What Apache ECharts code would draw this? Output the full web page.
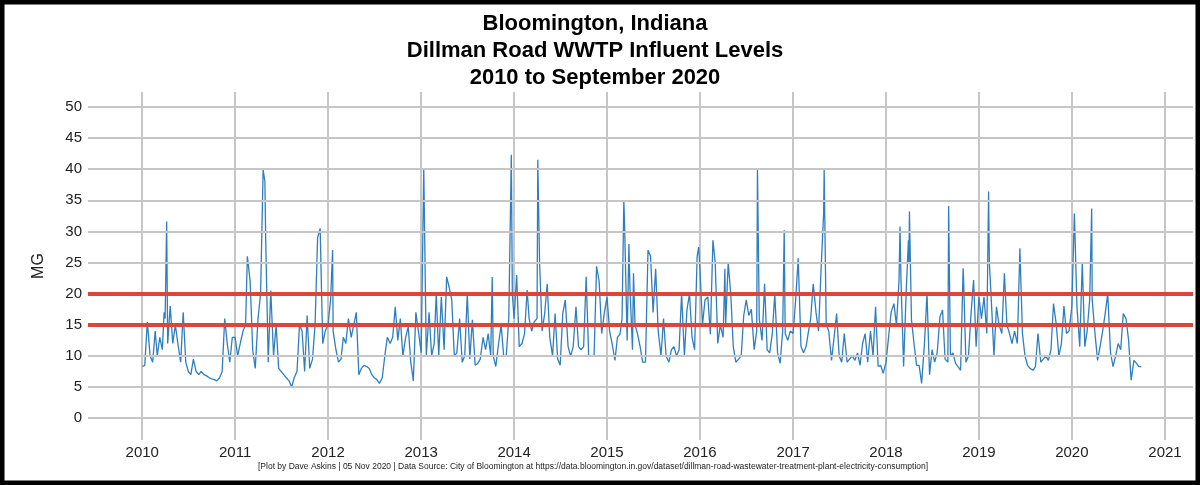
<!DOCTYPE html>
<html>
<head>
<meta charset="utf-8">
<script src="https://cdn.jsdelivr.net/npm/echarts@6/dist/echarts.min.js"></script>
<style>
  html, body { margin: 0; padding: 0; background: #fff; }
  #main { width: 1200px; height: 485px; }
</style>
</head>
<body>
<div id="main"></div>
<script>
var y2010 = [8.3, 8.5, 15.5, 10, 9, 14, 10, 13, 11, 16, 12, 18, 12, 15, 12, 9, 17, 9, 7.5, 7, 9.5, 7.5, 7, 7.5, 7, 6.8, 6.5, 6.3, 6.2, 6, 6.5, 7.5, 16, 12, 9, 13];
var y2011 = [13, 10, 12, 14, 15, 25, 22, 11, 8, 16, 20, 39.9, 29, 9, 20.5, 10, 15, 8, 7.5, 7, 6.5, 6, 5, 6.5, 7.5, 15, 14, 7.5, 16.5, 8, 9.5, 15, 29, 30.5, 12, 14];
var y2012 = [15, 19, 14, 11, 9, 9.5, 13, 12, 16, 13, 15, 17, 7, 8, 8.5, 8.3, 8, 7, 6.5, 6.2, 5.6, 6.5, 10, 13, 12, 13, 17.9, 12.5, 16, 10, 13, 14.7, 9, 6, 17, 14];
var y2013 = [10.5, 40.1, 10, 17, 10, 12, 20, 10, 19.5, 11, 22.7, 21, 19, 10, 10.5, 16, 9, 10, 20, 9.5, 15.8, 8.5, 8.8, 9.5, 13, 11, 13.6, 10, 10, 8.3, 12, 15, 10, 10, 16, 42.3];
var y2014 = [16, 23, 11.5, 12, 13.6, 20.6, 16, 14, 15.5, 16, 25, 14, 16.8, 21.6, 13, 10, 16.8, 9.5, 8.5, 16.8, 19, 11.5, 10, 11.5, 17.9, 11.5, 11, 11.5, 22.7, 10, 10, 10, 24.4, 22, 13.6, 16.8];
var y2015 = [19.5, 14, 12, 9.3, 13, 13.5, 16, 31, 12.5, 21, 11, 15, 13.5, 11.5, 9, 9, 27, 26, 17, 24, 14, 10, 16, 10, 9, 11, 11.5, 10, 11, 20, 10, 17.4, 20, 13, 11, 26];
var y2016 = [24, 15, 19, 19.5, 13.5, 28.6, 25, 12, 15, 13, 15, 25, 20, 11.5, 9, 9.5, 10, 16.5, 19, 16.5, 17.5, 11, 14, 16, 12.5, 21.6, 11, 10.5, 13.5, 20, 10.5, 8.8, 14, 13.6, 12.5, 14];
var y2017 = [13.6, 19, 25.7, 11.5, 10.5, 11.5, 13.6, 16, 21.6, 17, 14, 24, 33, 15, 14, 9.3, 13, 16.8, 10, 9, 13.6, 9, 9.5, 10, 9.3, 10.5, 8.5, 12, 13.6, 9, 14, 10, 17.9, 8.3, 8.5, 7.2];
var y2018 = [9, 13, 17, 18.4, 15, 22, 22, 8.3, 20, 25, 15.8, 12, 8.5, 8.5, 5.6, 12, 20, 7, 11, 9, 10.5, 16.3, 17.4, 9.5, 9, 10, 10.5, 8.8, 8.3, 7.7, 23.3, 9, 10, 16.8, 22.2, 11.5];
var y2019 = [19.5, 16, 19.5, 13.6, 25, 17, 10, 17.9, 15, 13.6, 23.3, 15, 13.6, 12, 14, 12, 27.3, 13.6, 10, 8.5, 8, 7.7, 8.3, 13.6, 9, 9.5, 10, 9.3, 11, 18.4, 15, 10, 12, 18, 13.6, 14];
var y2020 = [17.9, 32.9, 18, 11.5, 25, 11.5, 14, 19, 19, 13.6, 9.3, 11.5, 14, 16.8, 20, 10.5, 8.3, 10, 12, 11, 16.8, 16, 12.5, 6.1, 9.3, 8.8, 8.3];

// short spikes between the 10-day readings
var peaks = [
  ["2010-03-28", 17], ["2010-04-07", 31.6],
  ["2011-02-18", 26], ["2011-04-28", 38],
  ["2012-01-19", 27],
  ["2013-10-07", 22.7], ["2013-12-25", 20],
  ["2014-04-04", 41.5],
  ["2015-03-08", 35], ["2015-03-28", 28], ["2015-04-15", 23.3], ["2015-12-27", 27.5],
  ["2016-04-08", 24], ["2016-08-14", 40.1], ["2016-11-27", 30.2],
  ["2017-05-03", 39.9],
  ["2018-02-25", 30.8], ["2018-03-30", 28.6], ["2018-04-03", 33.2], ["2018-09-04", 34.1], ["2018-10-31", 24.1],
  ["2019-02-08", 36.4],
  ["2020-01-14", 28.6], ["2020-03-19", 33.7], ["2020-09-30", 8.3]
];

var years = [2010, 2011, 2012, 2013, 2014, 2015, 2016, 2017, 2018, 2019, 2020];
var yearly = [y2010, y2011, y2012, y2013, y2014, y2015, y2016, y2017, y2018, y2019, y2020];
var yTicks = [0, 5, 10, 15, 20, 25, 30, 35, 40, 45, 50];
var limits = [15, 20];

function toTime(s) {
  var p = s.split("-");
  return new Date(+p[0], +p[1] - 1, +p[2]).getTime();
}

var flow = [];
years.forEach(function (yr, k) {
  yearly[k].forEach(function (v, i) {
    flow.push([new Date(yr, Math.floor(i / 3), [1, 11, 21][i % 3]).getTime(), v]);
  });
});
peaks.forEach(function (p) { flow.push([toTime(p[0]), p[1]]); });
flow.sort(function (a, b) { return a[0] - b[0]; });

var YEAR = 365 * 24 * 3600 * 1000;
var myChart = echarts.init(document.getElementById("main"));

var option = {
  backgroundColor: "#fff",
  animation: false,
  title: {
    text: "Bloomington, Indiana\nDillman Road WWTP Influent Levels\n2010 to September 2020",
    left: 590,
    textAlign: "center",
    top: 5,
    textStyle: {
      fontFamily: "Liberation Sans, Arial, sans-serif",
      fontSize: 22,
      fontWeight: "bold",
      lineHeight: 27,
      color: "#000"
    }
  },
  grid: { left: 88, right: 7, top: 92, bottom: 45 },
  xAxis: {
    type: "time",
    min: new Date(2009, 5, 2).getTime(),
    max: new Date(2021, 3, 21).getTime(),
    minInterval: YEAR,
    maxInterval: YEAR,
    axisLine: { show: false },
    axisTick: { show: false },
    splitLine: {
      show: true,
      showMinLine: false,
      showMaxLine: false,
      lineStyle: { color: "#c6c6c6", width: 2 }
    },
    axisLabel: {
      margin: 5,
      color: "#222",
      fontSize: 15,
      fontFamily: "Liberation Sans, Arial, sans-serif",
      formatter: function (v) { return String(new Date(v).getFullYear()); }
    }
  },
  yAxis: {
    type: "value",
    min: -3.5,
    max: 52.4,
    name: "MG",
    nameLocation: "middle",
    nameGap: 41,
    nameTextStyle: { color: "#222", fontSize: 16, fontFamily: "Liberation Sans, Arial, sans-serif" },
    axisLine: { show: false },
    axisTick: { show: false },
    splitLine: { show: false },
    axisLabel: {
      customValues: yTicks,
      margin: 6,
      color: "#222",
      fontSize: 15,
      fontFamily: "Liberation Sans, Arial, sans-serif"
    }
  },
  series: [
    {
      name: "grid",
      type: "line",
      data: [],
      z: 1,
      silent: true,
      markLine: {
        silent: true,
        symbol: ["none", "none"],
        label: { show: false },
        lineStyle: { color: "#c6c6c6", width: 2, type: "solid" },
        data: yTicks.map(function (v) { return { yAxis: v }; })
      }
    },
    {
      name: "Influent",
      type: "line",
      data: flow,
      z: 3,
      showSymbol: false,
      symbol: "none",
      lineStyle: { color: "#2f7ebf", width: 1.3 }
    },
    {
      name: "limits",
      type: "line",
      data: [],
      z: 4,
      silent: true,
      markLine: {
        silent: true,
        symbol: ["none", "none"],
        label: { show: false },
        lineStyle: { color: "#d9463e", width: 4, type: "solid" },
        data: limits.map(function (v) { return { yAxis: v }; })
      }
    }
  ],
  graphic: [
    {
      type: "text",
      left: 258,
      top: 462,
      style: {
        text: "[Plot by Dave Askins | 05 Nov 2020 | Data Source: City of Bloomington at https://data.bloomington.in.gov/dataset/dillman-road-wastewater-treatment-plant-electricity-consumption]",
        fontSize: 8.5,
        fontFamily: "Liberation Sans, Arial, sans-serif",
        fill: "#222"
      }
    },
    {
      type: "rect",
      z: 100,
      silent: true,
      shape: { x: 0, y: 0, width: 1200, height: 485 },
      style: { fill: "none", stroke: "#000", lineWidth: 9 }
    }
  ]
};

myChart.setOption(option);
</script>
</body>
</html>
